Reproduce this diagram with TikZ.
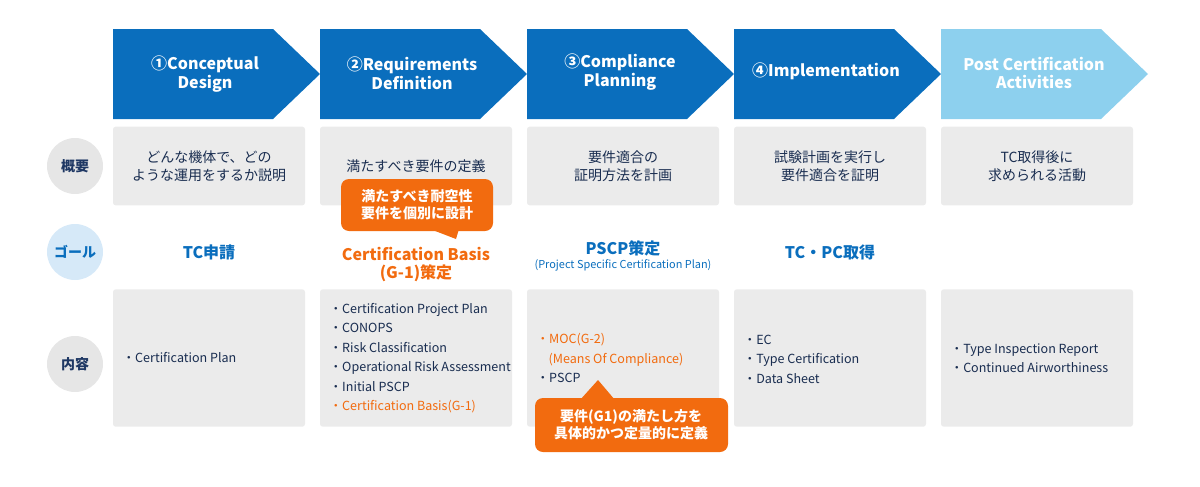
\documentclass[tikz,border=0pt]{standalone}
\usepackage{fontspec}
\setmainfont{Noto Sans CJK JP}
\usetikzlibrary{positioning}
\definecolor{stepblue}{HTML}{0A6EBD}
\definecolor{postblue}{HTML}{8DD0EE}
\definecolor{boxgray}{HTML}{EBEBEB}
\definecolor{notegray}{HTML}{E6E6E6}
\definecolor{navytext}{HTML}{1F3864}
\definecolor{hiorange}{HTML}{F26B0F}
\definecolor{goalblue}{HTML}{D6E9F8}
\tikzset{
  steptext/.style={text=white, font=\fontsize{12}{14}\selectfont\bfseries, align=center},
  summary/.style={fill=boxgray, rounded corners=2pt, minimum width=144pt, minimum height=59pt, align=center, font=\fontsize{10.5}{13.5}\selectfont, text=navytext!80!black},
  content/.style={fill=boxgray, rounded corners=2pt, minimum width=144pt, minimum height=103pt},
  rowlabel/.style={circle, fill=notegray, minimum size=42pt, font=\fontsize{10.5}{12}\selectfont\bfseries, text=navytext},
  goal/.style={font=\fontsize{12}{13.5}\selectfont\bfseries, text=stepblue, align=center},
  items/.style={anchor=west, align=left, font=\fontsize{9.4}{14.6}\selectfont, text=navytext!80!black},
  callout/.style={fill=hiorange, rounded corners=6pt},
  callouttext/.style={text=white, font=\fontsize{10.5}{13}\selectfont\bfseries, align=center}
}
\begin{document}
\begin{tikzpicture}[x=0.75pt, y=-0.75pt]
  \useasboundingbox (0,0) rectangle (1200,486);
  % step arrows
  \foreach \i/\x/\c in {1/113/stepblue, 2/320/stepblue, 3/527/stepblue, 4/734/stepblue, 5/941/postblue}
    \fill[\c] (\x,29) -- (\x+160,29) -- (\x+192+15,74) -- (\x+160,119) -- (\x,119) -- cycle;
  \node[steptext] (step1) at (205,74) {①Conceptual\\Design};
  \node[steptext] (step2) at (412,73) {②Requirements\\Definition};
  \node[steptext] (step3) at (620,72) {③Compliance\\Planning};
  \node[steptext] (step4) at (826,71) {④Implementation};
  \node[steptext] (step5) at (1034,73) {Post Certification\\Activities};
  % row labels
  \node[rowlabel] (lblsummary) at (75,166) {概要};
  \node[rowlabel, fill=goalblue, text=stepblue] (lblgoal) at (75,252) {ゴール};
  \node[rowlabel] (lblcontent) at (75,364) {内容};
  % summary boxes
  \node[summary] (sum1) at (209,166) {どんな機体で、どの\\ような運用をするか説明};
  \node[summary] (sum2) at (416,166) {満たすべき要件の定義};
  \node[summary] (sum3) at (623,166) {要件適合の\\証明方法を計画};
  \node[summary] (sum4) at (830,166) {試験計画を実行し\\要件適合を証明};
  \node[summary] (sum5) at (1037,166) {TC取得後に\\求められる活動};
  % goals
  \node[goal] (goal1) at (209,252) {TC申請};
  \node[goal, text=hiorange] (goal2) at (416,264) {Certification Basis\\(G-1)策定};
  \node[goal, align=center] (goal3) at (623,256) {PSCP策定\\[-3pt]{\fontsize{8.2}{10}\selectfont\mdseries (Project Specific Certification Plan)}};
  \node[goal] (goal4) at (830,252) {TC・PC取得};
  % content boxes
  \foreach \i/\x in {1/209, 2/416, 3/623, 4/830, 5/1037}
    \node[content] (con\i) at (\x,358) {};
  \node[items] (items1) at (118,358) {・Certification Plan};
  \node[items] (items2) at (325,358) {・Certification Project Plan\\・CONOPS\\・Risk Classification\\・Operational Risk Assessment\\・Initial PSCP\\{\color{hiorange}・Certification Basis(G-1)}};
  \node[items] (items3) at (532,358) {{\color{hiorange}・MOC(G-2)}\\{\color{hiorange}\hspace{9pt}(Means Of Compliance)}\\・PSCP};
  \node[items] (items4) at (739,359) {・EC\\・Type Certification\\・Data Sheet};
  \node[items] (items5) at (946,358) {・Type Inspection Report\\・Continued Airworthiness};
  % callouts
  \fill[callout] (341,179) rectangle (493,231);
  \fill[hiorange] (430,229) -- (459,229) -- (456,239) -- cycle;
  \node[callouttext] (note1) at (417,205) {満たすべき耐空性\\要件を個別に設計};
  \fill[callout] (535,398) rectangle (728,452);
  \fill[hiorange] (580,400) -- (598,380) -- (615,400) -- cycle;
  \node[callouttext] (note2) at (631,425) {要件(G1)の満たし方を\\具体的かつ定量的に定義};
\end{tikzpicture}
\end{document}
